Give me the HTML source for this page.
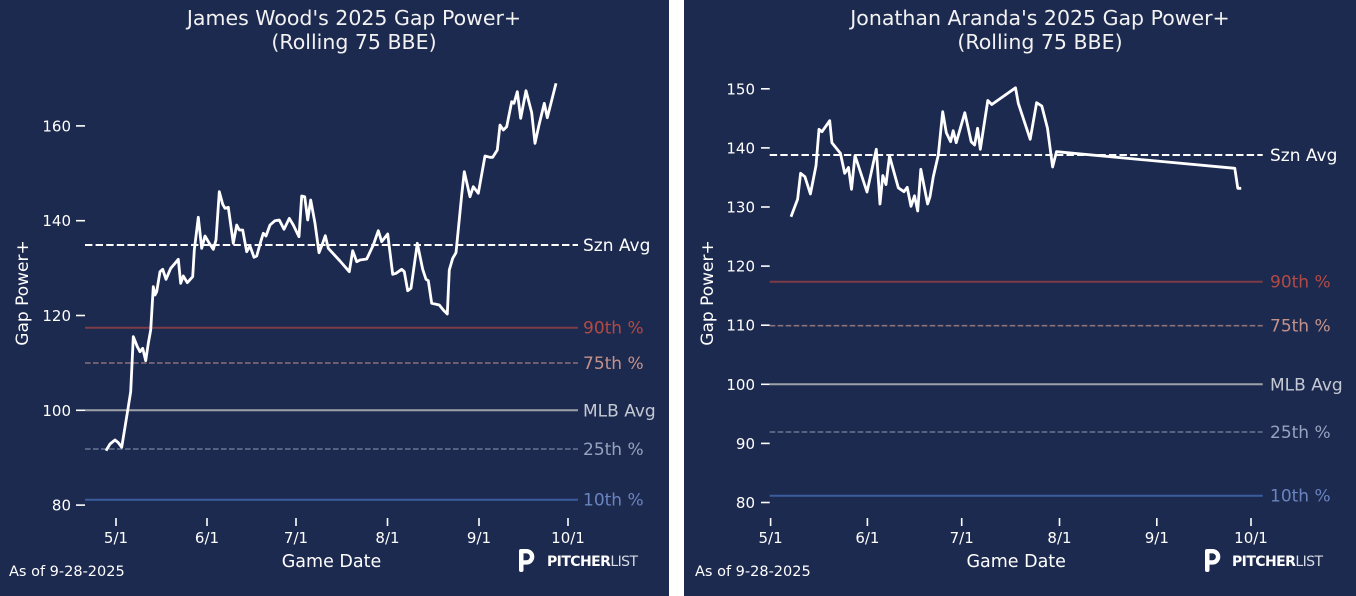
<!DOCTYPE html>
<html>
<head>
<meta charset="utf-8">
<style>
  html, body { margin:0; padding:0; background:#ffffff; }
  body { width:1356px; height:596px; overflow:hidden; }
  svg { display:block; }
  text { font-family: "DejaVu Sans", "Liberation Sans", sans-serif; }
</style>
</head>
<body>
<svg width="1356" height="596" viewBox="0 0 1356 596" xmlns="http://www.w3.org/2000/svg">
  <rect x="0" y="0" width="1356" height="596" fill="#ffffff"/>
  <rect x="0" y="0" width="669" height="596" fill="#1d2a4f"/>
  <rect x="684" y="0" width="672" height="596" fill="#1d2a4f"/>

  <!-- ================= LEFT CHART ================= -->
  <g>
    <text x="354" y="25" font-size="20.5" fill="#f2f2f2" text-anchor="middle">James Wood's 2025 Gap Power+</text>
    <text x="354" y="49" font-size="20.5" fill="#f2f2f2" text-anchor="middle">(Rolling 75 BBE)</text>

    <g stroke="#ffffff" stroke-width="1.6">
      <line x1="76" y1="125.9" x2="85" y2="125.9"/>
      <line x1="76" y1="220.7" x2="85" y2="220.7"/>
      <line x1="76" y1="315.5" x2="85" y2="315.5"/>
      <line x1="76" y1="410.3" x2="85" y2="410.3"/>
      <line x1="76" y1="505.1" x2="85" y2="505.1"/>
    </g>
    <g font-size="15" fill="#ffffff" text-anchor="end">
      <text x="71" y="131.4">160</text>
      <text x="71" y="226.2">140</text>
      <text x="71" y="321">120</text>
      <text x="71" y="415.8">100</text>
      <text x="71" y="510.6">80</text>
    </g>

    <g stroke="#ffffff" stroke-width="1.6">
      <line x1="116" y1="518" x2="116" y2="526"/>
      <line x1="207" y1="518" x2="207" y2="526"/>
      <line x1="296" y1="518" x2="296" y2="526"/>
      <line x1="387.5" y1="518" x2="387.5" y2="526"/>
      <line x1="479" y1="518" x2="479" y2="526"/>
      <line x1="568" y1="518" x2="568" y2="526"/>
    </g>
    <g font-size="15" fill="#ffffff" text-anchor="middle">
      <text x="116" y="543">5/1</text>
      <text x="207" y="543">6/1</text>
      <text x="296" y="543">7/1</text>
      <text x="387.5" y="543">8/1</text>
      <text x="479" y="543">9/1</text>
      <text x="568" y="543">10/1</text>
    </g>

    <text x="331.5" y="567" font-size="17.5" fill="#ffffff" text-anchor="middle">Game Date</text>
    <text transform="translate(28,293) rotate(-90)" font-size="17" fill="#ffffff" text-anchor="middle">Gap Power+</text>
    <text x="9" y="576" font-size="14.5" fill="#ffffff">As of 9-28-2025</text>

    <line x1="85" y1="327.7" x2="578" y2="327.7" stroke="#7b3b47" stroke-width="2"/>
    <line x1="85" y1="363" x2="578" y2="363" stroke="#8c707a" stroke-width="1.6" stroke-dasharray="5.6 2.4"/>
    <line x1="85" y1="410.3" x2="578" y2="410.3" stroke="#9da1aa" stroke-width="2"/>
    <line x1="85" y1="449" x2="578" y2="449" stroke="#6a7594" stroke-width="1.6" stroke-dasharray="5.6 2.4"/>
    <line x1="85" y1="499.7" x2="578" y2="499.7" stroke="#3a5c9e" stroke-width="2"/>
    <line x1="85" y1="245" x2="578" y2="245" stroke="#ffffff" stroke-width="2" stroke-dasharray="7.4 3.2"/>

    <g font-size="17">
      <text x="583" y="251" fill="#ffffff">Szn Avg</text>
      <text x="583" y="333.7" fill="#b24a45">90th %</text>
      <text x="583" y="369" fill="#c4928a">75th %</text>
      <text x="583" y="416.3" fill="#c5c9d3">MLB Avg</text>
      <text x="583" y="455" fill="#97a2bf">25th %</text>
      <text x="583" y="505.7" fill="#6a84bf">10th %</text>
    </g>

    <polyline fill="none" stroke="#ffffff" stroke-width="2.8" stroke-linejoin="round" stroke-linecap="butt"
      points="106,450.7 110,444 115,440 118.3,442.7 121.7,447.3 126.7,416.7 130.7,391.7 133.3,336.7 137.3,346.7 140,351.7 142.7,348.3 145.7,360.7 148.3,343.3 150.7,330 153.3,286.7 155,295 156.7,291.7 160,271.7 162.7,269.3 166,279.3 170.7,268.3 175,263.3 178.3,259.3 180.7,283.3 183.3,276 187.3,282.7 192.7,276.7 194.3,250 198.3,217.3 201.7,248.3 205,236 209.3,243.3 213.3,249.3 216,240 219.3,191.7 222.7,204.3 225,208.3 228.3,207.3 233.3,243.3 236.7,225 239.3,230 242.7,230 246.7,251.7 250,246 254,257.3 256.7,256 260.7,241.7 263.3,233.3 266,236 270,225 275,220.7 279.3,220 284,229.3 289.3,218.3 293.3,225 299,236.7 301.7,196 304.7,196.7 307.7,220 310.7,200 315,223.3 319,252.7 321.7,246 325.3,235.7 328.3,248.3 340,261 349.3,271.7 352.7,250.7 356.7,261.7 360,260 366.7,259 373.3,245 378.3,230.7 381.7,241.7 387.7,234 392.7,274.3 396,273.3 401.7,269.3 404.3,271.7 407.7,290.7 411,288.3 417.3,243.3 422.7,269.3 426,279.3 428.3,280.7 431.7,303.3 439.3,305 443.3,310 447.3,314 449.3,270 452.7,258.3 456,252.7 461.7,195 464.3,171.7 470,196.7 473.3,186.7 478.3,193.3 485,156 490,157.3 492.7,157.3 497.3,150 500,125 503.3,130 506.7,126.7 511.7,101.7 514,103.3 517.3,91.7 520.7,118.3 526,90.7 531.7,112.7 535,143.3 539,125 544.3,103.3 547.3,117.7 556,83.3"/>

    <g>
      <rect x="519" y="549" width="4.5" height="23" rx="2" fill="#ffffff"/>
      <path d="M521,551.2 H526.5 A5.6,5.6 0 0 1 526.5,562.4 H522.5" fill="none" stroke="#ffffff" stroke-width="4.4"/>
      <text x="547" y="566" font-size="14" fill="#ffffff" textLength="91" lengthAdjust="spacing"><tspan font-weight="bold">PITCHER</tspan><tspan fill="#d8dbe3">LIST</tspan></text>
    </g>
  </g>

  <!-- ================= RIGHT CHART ================= -->
  <g>
    <text x="1040" y="25" font-size="20.5" fill="#f2f2f2" text-anchor="middle">Jonathan Aranda's 2025 Gap Power+</text>
    <text x="1040" y="49" font-size="20.5" fill="#f2f2f2" text-anchor="middle">(Rolling 75 BBE)</text>

    <g stroke="#ffffff" stroke-width="1.6">
      <line x1="761" y1="88.8" x2="769.7" y2="88.8"/>
      <line x1="761" y1="147.9" x2="769.7" y2="147.9"/>
      <line x1="761" y1="207" x2="769.7" y2="207"/>
      <line x1="761" y1="266.1" x2="769.7" y2="266.1"/>
      <line x1="761" y1="325.2" x2="769.7" y2="325.2"/>
      <line x1="761" y1="384.3" x2="769.7" y2="384.3"/>
      <line x1="761" y1="443.4" x2="769.7" y2="443.4"/>
      <line x1="761" y1="502.5" x2="769.7" y2="502.5"/>
    </g>
    <g font-size="15" fill="#ffffff" text-anchor="end">
      <text x="755" y="94.3">150</text>
      <text x="755" y="153.4">140</text>
      <text x="755" y="212.5">130</text>
      <text x="755" y="271.6">120</text>
      <text x="755" y="330.7">110</text>
      <text x="755" y="389.8">100</text>
      <text x="755" y="448.9">90</text>
      <text x="755" y="508">80</text>
    </g>

    <g stroke="#ffffff" stroke-width="1.6">
      <line x1="770.6" y1="518" x2="770.6" y2="526"/>
      <line x1="867.4" y1="518" x2="867.4" y2="526"/>
      <line x1="961.7" y1="518" x2="961.7" y2="526"/>
      <line x1="1059.5" y1="518" x2="1059.5" y2="526"/>
      <line x1="1156.8" y1="518" x2="1156.8" y2="526"/>
      <line x1="1251" y1="518" x2="1251" y2="526"/>
    </g>
    <g font-size="15" fill="#ffffff" text-anchor="middle">
      <text x="770.6" y="543">5/1</text>
      <text x="867.4" y="543">6/1</text>
      <text x="961.7" y="543">7/1</text>
      <text x="1059.5" y="543">8/1</text>
      <text x="1156.8" y="543">9/1</text>
      <text x="1251" y="543">10/1</text>
    </g>

    <text x="1016.2" y="567" font-size="17.5" fill="#ffffff" text-anchor="middle">Game Date</text>
    <text transform="translate(713,293) rotate(-90)" font-size="17" fill="#ffffff" text-anchor="middle">Gap Power+</text>
    <text x="695" y="576" font-size="14.5" fill="#ffffff">As of 9-28-2025</text>

    <line x1="769.7" y1="281.7" x2="1262.7" y2="281.7" stroke="#7b3b47" stroke-width="2"/>
    <line x1="769.7" y1="325.7" x2="1262.7" y2="325.7" stroke="#8c707a" stroke-width="1.6" stroke-dasharray="5.6 2.4"/>
    <line x1="769.7" y1="384.3" x2="1262.7" y2="384.3" stroke="#9da1aa" stroke-width="2"/>
    <line x1="769.7" y1="432" x2="1262.7" y2="432" stroke="#6a7594" stroke-width="1.6" stroke-dasharray="5.6 2.4"/>
    <line x1="769.7" y1="495.7" x2="1262.7" y2="495.7" stroke="#3a5c9e" stroke-width="2"/>
    <line x1="769.7" y1="155" x2="1262.7" y2="155" stroke="#ffffff" stroke-width="2" stroke-dasharray="7.4 3.2"/>

    <g font-size="17">
      <text x="1270" y="161" fill="#ffffff">Szn Avg</text>
      <text x="1270" y="287.7" fill="#b24a45">90th %</text>
      <text x="1270" y="331.7" fill="#c4928a">75th %</text>
      <text x="1270" y="390.3" fill="#c5c9d3">MLB Avg</text>
      <text x="1270" y="438" fill="#97a2bf">25th %</text>
      <text x="1270" y="501.7" fill="#6a84bf">10th %</text>
    </g>

    <polyline fill="none" stroke="#ffffff" stroke-width="2.8" stroke-linejoin="round" stroke-linecap="butt"
      points="791,216.7 797.6,199.3 800.6,173.3 804.9,176.7 810.4,194 816,165.7 819,129.3 822,131.7 829.7,120.7 831.9,142.7 840.4,153.3 844.7,173.3 848.5,167.5 851.5,189.3 855,155.5 867,192 876.3,149.3 880,204 882.8,175.5 886,184.5 889.5,156 898.3,187.8 904,191.7 907.2,187.3 911,206.3 914.5,195.8 917.7,211 920.8,169.3 927.6,204 930,196.7 933.3,176.7 938.3,155 942.7,111.7 946.3,132.7 950.6,141.7 953.2,130.7 956.2,142.7 964.8,112.7 971.2,141.7 974.6,145 977.6,128.3 980.3,149.3 987.8,100.5 991.8,104.5 1015.5,87.8 1018.3,103.3 1030.2,139.3 1036.6,102.7 1041.8,106 1047.5,128.3 1052.6,167 1056.5,151.7 1234.8,168.3 1237.8,188.3 1241.2,188.3"/>

    <g>
      <rect x="1205" y="549" width="4.5" height="23" rx="2" fill="#ffffff"/>
      <path d="M1207,551.2 H1212.5 A5.6,5.6 0 0 1 1212.5,562.4 H1208.5" fill="none" stroke="#ffffff" stroke-width="4.4"/>
      <text x="1232" y="566" font-size="14" fill="#ffffff" textLength="91" lengthAdjust="spacing"><tspan font-weight="bold">PITCHER</tspan><tspan fill="#d8dbe3">LIST</tspan></text>
    </g>
  </g>
</svg>
</body>
</html>
